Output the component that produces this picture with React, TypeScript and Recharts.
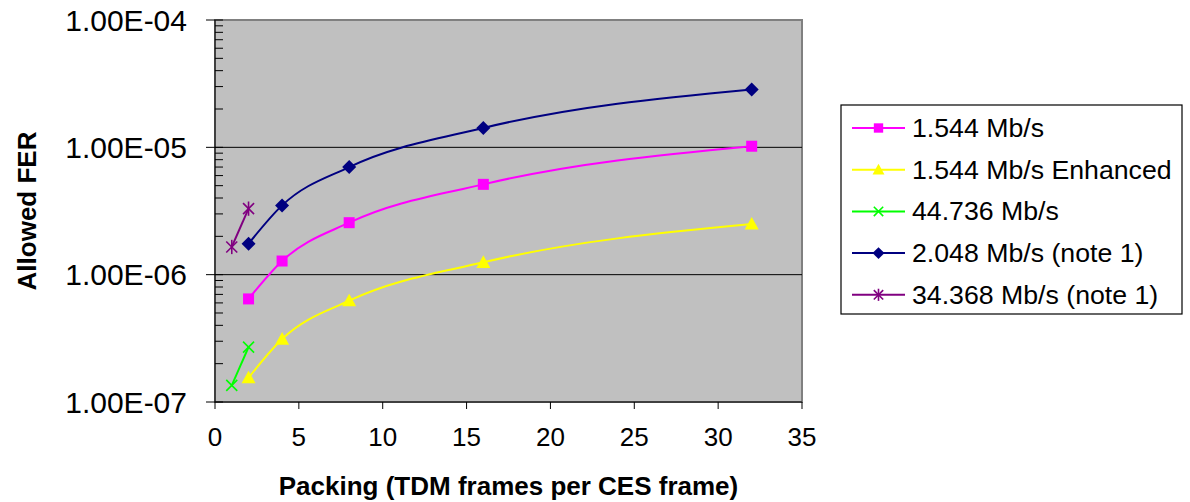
import React from "react";
import {
  LineChart,
  Line,
  XAxis,
  YAxis,
  ReferenceArea,
  ReferenceLine,
} from "recharts";

const FONT = '"Liberation Sans", Arial, sans-serif';

// packing values (TDM frames per CES frame)
const packingLow = [2, 4, 8, 16, 32];
const packingHigh = [1, 2];

// allowed FER per series
const fer1544 = [6.45e-7, 1.28e-6, 2.56e-6, 5.12e-6, 1.02e-5];
const fer1544Enh = [1.55e-7, 3.12e-7, 6.25e-7, 1.25e-6, 2.5e-6];
const fer44736 = [1.35e-7, 2.7e-7];
const fer2048 = [1.75e-6, 3.5e-6, 7e-6, 1.42e-5, 2.85e-5];
const fer34368 = [1.65e-6, 3.3e-6];

const xTicks = [0, 5, 10, 15, 20, 25, 30, 35];
const yMajor = [1e-7, 1e-6, 1e-5, 1e-4];
const yMinorSteps = [2, 3, 4, 5, 6, 7, 8, 9];
const yMinor = yMajor.slice(0, -1).flatMap((d) => yMinorSteps.map((k) => k * d));

const rows = (xs: number[], ys: number[]) => xs.map((x, i) => ({ x, fer: ys[i] }));

type Marker = "square" | "triangle" | "x" | "diamond" | "star";

function MarkerShape({ kind, cx, cy, color, s = 1 }: { kind: Marker; cx: number; cy: number; color: string; s?: number }) {
  if (kind === "square") {
    const h = 5.5 * s;
    return <rect x={cx - h} y={cy - h} width={h * 2} height={h * 2} fill={color} />;
  }
  if (kind === "triangle") {
    const h = 7 * s;
    return <polygon points={`${cx},${cy - h} ${cx + h},${cy + h * 0.8} ${cx - h},${cy + h * 0.8}`} fill={color} />;
  }
  if (kind === "diamond") {
    const h = 7 * s;
    return <polygon points={`${cx},${cy - h} ${cx + h},${cy} ${cx},${cy + h} ${cx - h},${cy}`} fill={color} />;
  }
  const h = 5.5 * s;
  return (
    <g stroke={color} strokeWidth={1.6}>
      <line x1={cx - h} y1={cy - h} x2={cx + h} y2={cy + h} />
      <line x1={cx - h} y1={cy + h} x2={cx + h} y2={cy - h} />
      {kind === "star" && <line x1={cx} y1={cy - h * 1.3} x2={cx} y2={cy + h * 1.3} />}
    </g>
  );
}

const series: { name: string; xs: number[]; ys: number[]; color: string; marker: Marker }[] = [
  { name: "1.544 Mb/s", xs: packingLow, ys: fer1544, color: "#FF00FF", marker: "square" },
  { name: "1.544 Mb/s Enhanced", xs: packingLow, ys: fer1544Enh, color: "#FFFF00", marker: "triangle" },
  { name: "44.736 Mb/s", xs: packingHigh, ys: fer44736, color: "#00FF00", marker: "x" },
  { name: "2.048 Mb/s (note 1)", xs: packingLow, ys: fer2048, color: "#000080", marker: "diamond" },
  { name: "34.368 Mb/s (note 1)", xs: packingHigh, ys: fer34368, color: "#800080", marker: "star" },
];

const formatSci = (v: number) => {
  const exp = Math.round(Math.log10(v));
  const sign = exp < 0 ? "-" : "+";
  return `1.00E${sign}${String(Math.abs(exp)).padStart(2, "0")}`;
};

function YTick(props: any) {
  const { x, y, payload } = props;
  const v = payload.value as number;
  const major = yMajor.some((m) => Math.abs(m - v) / m < 1e-6);
  if (!major) {
    return <line x1={x} x2={x + 8} y1={y} y2={y} stroke="#000" strokeWidth={1} />;
  }
  return (
    <g>
      <line x1={x - 9} x2={x + 8} y1={y} y2={y} stroke="#000" strokeWidth={1} />
      <text x={x - 28} y={y} textAnchor="end" dominantBaseline="central" fontSize={30} fontFamily={FONT} fill="#000">
        {formatSci(v)}
      </text>
    </g>
  );
}

function LegendBox() {
  return (
    <svg
      width={343}
      height={211}
      style={{ position: "absolute", left: 840, top: 104 }}
    >
      <rect x={1} y={1} width={341} height={209} fill="#fff" stroke="#000" strokeWidth={1.2} />
      {series.map((s, i) => {
        const cy = 24 + i * 41.7;
        return (
          <g key={s.name}>
            <line x1={12} x2={65} y1={cy} y2={cy} stroke={s.color} strokeWidth={2} />
            <MarkerShape kind={s.marker} cx={38.5} cy={cy} color={s.color} s={0.85} />
            <text x={72} y={cy} dominantBaseline="central" fontSize={26.7} fontFamily={FONT} fill="#000">
              {s.name}
            </text>
          </g>
        );
      })}
    </svg>
  );
}

export default function App() {
  return (
    <div style={{ position: "absolute", left: 0, top: 0, width: 1190, height: 502, background: "#fff", fontFamily: FONT }}>
      <LineChart width={1190} height={502} margin={{ top: 20, right: 388, left: 0, bottom: 0 }}>
        <ReferenceArea x1={0} x2={35} y1={1e-7} y2={1e-4} fill="#C0C0C0" fillOpacity={1} stroke="#808080" strokeWidth={2} />
        {yMajor.slice(1, -1).map((v) => (
          <ReferenceLine key={v} y={v} stroke="#000" strokeWidth={1} />
        ))}
        <XAxis
          type="number"
          dataKey="x"
          domain={[0, 35]}
          ticks={xTicks}
          allowDataOverflow
          height={100}
          stroke="#000"
          tickSize={7}
          tickMargin={19}
          tick={{ fontSize: 26, fill: "#000", fontFamily: FONT }}
          label={{
            value: "Packing (TDM frames per CES frame)",
            position: "insideBottom",
            offset: 7,
            style: { fontSize: 26, fontWeight: "bold", fill: "#000", fontFamily: FONT },
          }}
        />
        <YAxis
          type="number"
          scale="log"
          domain={[1e-7, 1e-4]}
          allowDataOverflow
          ticks={[...yMajor, ...yMinor]}
          interval={0}
          width={215}
          stroke="#000"
          tickSize={0}
          tickMargin={0}
          tickLine={false}
          tick={<YTick />}
          label={{
            value: "Allowed FER",
            angle: -90,
            position: "insideLeft",
            offset: 27,
            style: { textAnchor: "middle", fontSize: 26, fontWeight: "bold", fill: "#000", fontFamily: FONT },
          }}
        />
        {series.map((s) => (
          <Line
            key={s.name}
            name={s.name}
            data={rows(s.xs, s.ys)}
            dataKey="fer"
            type="monotone"
            stroke={s.color}
            strokeWidth={2}
            isAnimationActive={false}
            dot={(p: any) => <MarkerShape key={`${s.name}-${p.index}`} kind={s.marker} cx={p.cx} cy={p.cy} color={s.color} />}
            activeDot={false}
          />
        ))}
      </LineChart>
      <LegendBox />
    </div>
  );
}
